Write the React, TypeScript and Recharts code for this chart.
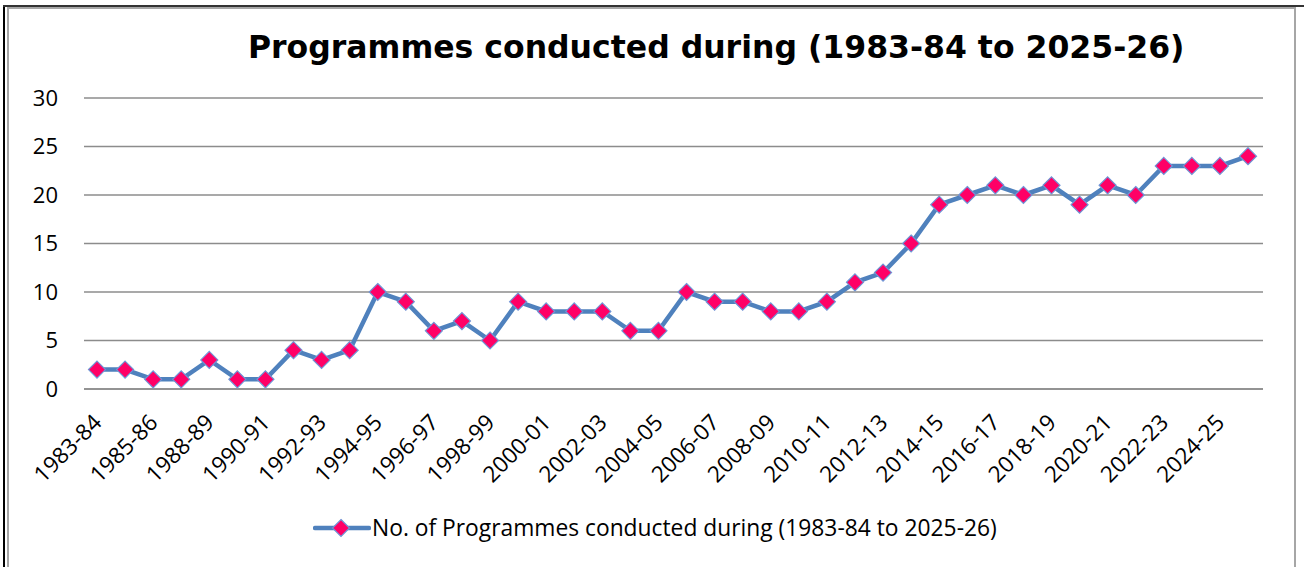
import React from "react";
import { LineChart, Line, XAxis, YAxis, CartesianGrid, Legend } from "recharts";

const categories: string[] = [
  "1983-84", "1984-85", "1985-86", "1986-87", "1988-89", "1989-90", "1990-91",
  "1991-92", "1992-93", "1993-94", "1994-95", "1995-96", "1996-97", "1997-98",
  "1998-99", "1999-00", "2000-01", "2001-02", "2002-03", "2003-04", "2004-05",
  "2005-06", "2006-07", "2007-08", "2008-09", "2009-10", "2010-11", "2011-12",
  "2012-13", "2013-14", "2014-15", "2015-16", "2016-17", "2017-18", "2018-19",
  "2019-20", "2020-21", "2021-22", "2022-23", "2023-24", "2024-25", "2025-26",
];

const programmes: number[] = [
  2, 2, 1, 1, 3, 1, 1, 4, 3, 4, 10, 9, 6, 7, 5, 9, 8, 8, 8, 6, 6, 10, 9, 9, 8, 8,
  9, 11, 12, 15, 19, 20, 21, 20, 21, 19, 21, 20, 23, 23, 23, 24,
];

const yTicks: number[] = [0, 5, 10, 15, 20, 25, 30];

const seriesName = "No. of Programmes conducted during (1983-84 to 2025-26)";
const titleText = "Programmes conducted during (1983-84 to 2025-26)";

const data = categories.map((c, i) => ({ year: c, value: programmes[i] }));

const LINE_COLOR = "#4F81BD";
const MARKER_FILL = "#FF0066";
const MARKER_STROKE = "#6F95D6";
const GRID = "#8C8C8C";
const FONT = "'Open Sans', 'Noto Sans', sans-serif";

const Diamond = (props: any) => {
  const { cx, cy, index } = props;
  if (cx == null || cy == null) return null;
  const s = 8.5;
  return (
    <polygon
      key={`d-${index}`}
      points={`${cx},${cy - s} ${cx + s},${cy} ${cx},${cy + s} ${cx - s},${cy}`}
      fill={MARKER_FILL}
      stroke={MARKER_STROKE}
      strokeWidth={1.2}
    />
  );
};

const XTick = (props: any) => {
  const { x, y, payload } = props;
  const ax = x + 6;
  const ay = y + 35;
  return (
    <text
      x={ax}
      y={ay}
      textAnchor="end"
      transform={`rotate(-45, ${ax}, ${ay})`}
      fontFamily={FONT}
      fontSize={22.5}
      fill="#000"
    >
      {payload.value}
    </text>
  );
};

const LegendContent = () => (
  <div style={{ display: "flex", alignItems: "center", whiteSpace: "nowrap" }}>
    <svg width={58} height={24} style={{ display: "block" }}>
      <line x1={2} y1={12} x2={56} y2={12} stroke={LINE_COLOR} strokeWidth={4.5} strokeLinecap="round" />
      <polygon points="28,3.5 36.5,12 28,20.5 19.5,12" fill={MARKER_FILL} stroke={MARKER_STROKE} strokeWidth={1.2} />
    </svg>
    <span style={{ fontFamily: FONT, fontSize: 22.8, color: "#000", marginLeft: 1 }}>{seriesName}</span>
  </div>
);

export default function App() {
  return (
    <div style={{ position: "absolute", left: 0, top: 0, width: 1304, height: 567, background: "#fff", overflow: "hidden" }}>
      <div style={{ position: "absolute", left: 3, top: 5, width: 2, height: 600, background: "#000" }} />
      <div style={{ position: "absolute", left: 3, top: 5, width: 1301, height: 1.5, background: "#333" }} />
      <div style={{ position: "absolute", left: 7, top: 7, width: 1289, height: 600, border: "2px solid #A6A6A6", boxSizing: "border-box" }} />
      <div style={{ position: "absolute", left: 0, top: 0 }}>
        <LineChart width={1304} height={567} data={data} margin={{ top: 98, right: 41, bottom: 0, left: 0 }}>
          <CartesianGrid vertical={false} stroke={GRID} strokeWidth={1.5} />
          <XAxis
            dataKey="year"
            type="category"
            height={178}
            interval={1}
            padding={{ left: 13, right: 15 }}
            axisLine={{ stroke: GRID, strokeWidth: 1.5 }}
            tickLine={false}
            tickSize={0}
            tickMargin={0}
            tick={<XTick />}
          />
          <YAxis
            width={84}
            domain={[0, 30]}
            ticks={yTicks}
            axisLine={false}
            tickLine={false}
            tickSize={0}
            tickMargin={26}
            tick={{ fontFamily: FONT, fontSize: 22, fill: "#000" }}
          />
          <Legend
            layout="horizontal"
            verticalAlign="middle"
            align="center"
            content={<LegendContent />}
            wrapperStyle={{ left: 313, top: 512, width: 800, height: 30 }}
          />
          <Line
            type="linear"
            dataKey="value"
            name={seriesName}
            stroke={LINE_COLOR}
            strokeWidth={4.5}
            dot={<Diamond />}
            activeDot={false}
            isAnimationActive={false}
          />
        </LineChart>
      </div>
      <svg style={{ position: "absolute", left: 0, top: 0 }} width={1304} height={80}>
        <text x={248} y={57.5} fontFamily="'DejaVu Sans', Verdana, sans-serif" fontWeight="bold" fontSize={31.5} fill="#000">
          {titleText}
        </text>
      </svg>
    </div>
  );
}
